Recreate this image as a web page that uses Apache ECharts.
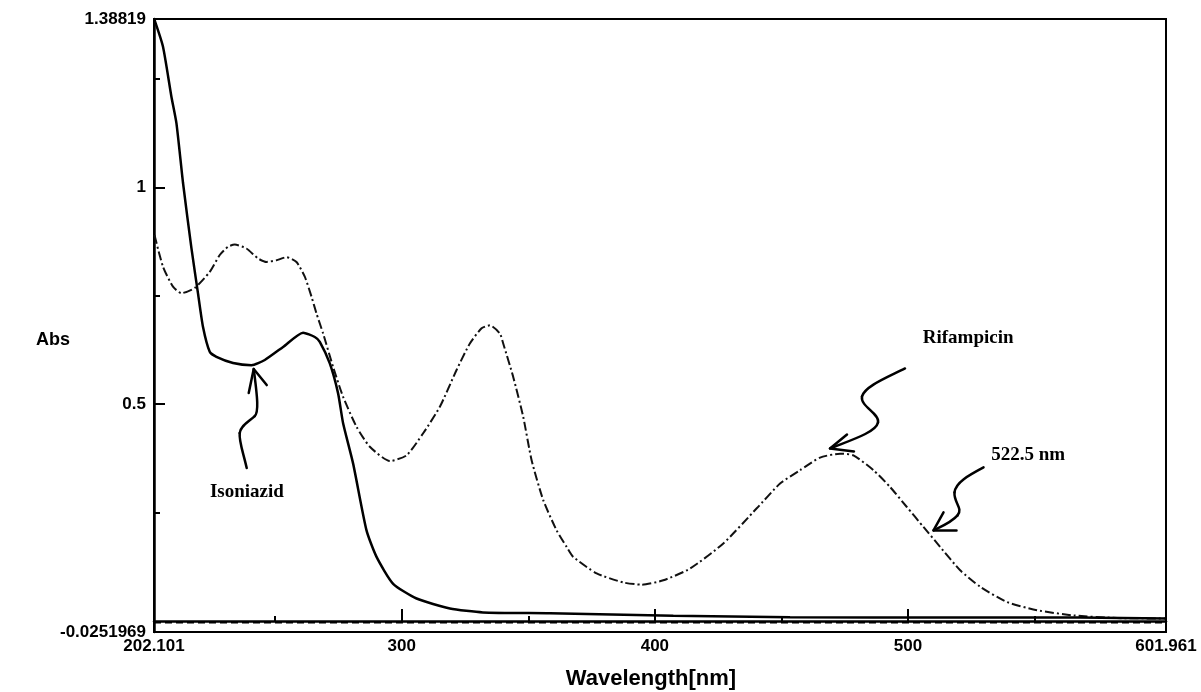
<!DOCTYPE html>
<html>
<head>
<meta charset="utf-8">
<script src="https://cdn.jsdelivr.net/npm/echarts@6/dist/echarts.min.js"></script>
<style>
  html, body { margin: 0; padding: 0; background: #fff; }
  #chart { width: 1201px; height: 692px; }
</style>
</head>
<body>
<div id="chart"></div>
<script>
// UV-Vis absorption spectra of isoniazid and rifampicin

// Tick labels (the first and last are the axis limits)
const xTickLabels = ['202.101', '300', '400', '500', '601.961'];
const xMinorTicks = [250, 350, 450, 550];
const yTickLabels = ['-0.0251969', '0.5', '1', '1.38819'];
const yMinorTicks = [0.25, 0.75, 1.25];

// Isoniazid spectrum (solid)
const isoWavelength = [202.3, 205.66, 208.98, 210.96, 213.57, 216.89, 219.5, 221.47, 224.12, 226.77,
  233.33, 240.61, 245.87, 253.1, 261.01, 265.63, 267.61, 271.56, 274.84, 276.82,
  280.78, 286.07, 290.03, 296.59, 305.84, 319.0, 332.05, 358.54, 407.29, 453.42,
  520.0, 568.07, 601.96];
const isoAbs = [1.386, 1.324, 1.209, 1.148, 1.010, 0.860, 0.755, 0.678, 0.621, 0.609,
  0.595, 0.590, 0.602, 0.632, 0.665, 0.655, 0.644, 0.594, 0.525, 0.456,
  0.363, 0.209, 0.148, 0.086, 0.052, 0.029, 0.020, 0.018, 0.012, 0.009,
  0.008, 0.008, 0.006];

// Rifampicin spectrum (dash-dot)
const rifWavelength = [202.3, 205.66, 209.61, 212.93, 218.19, 224.12, 228.08, 231.36, 234.01, 238.63,
  243.22, 246.54, 250.49, 254.44, 258.4, 261.68, 264.33, 266.31, 268.92, 272.87,
  276.82, 282.12, 287.38, 295.29, 301.89, 308.45, 315.05, 321.65, 326.91, 331.54,
  334.82, 338.77, 340.08, 344.03, 347.98, 351.3, 355.89, 361.19, 365.14, 367.75,
  377.0, 387.52, 394.79, 403.33, 413.89, 427.05, 440.26, 449.47, 457.38, 465.28,
  473.19, 478.45, 486.36, 492.96, 499.56, 506.13, 512.73, 520.63, 528.54, 539.1,
  550.96, 565.43, 582.59, 601.96];
const rifAbs = [0.890, 0.817, 0.771, 0.756, 0.768, 0.805, 0.844, 0.863, 0.868, 0.859,
  0.836, 0.828, 0.832, 0.839, 0.828, 0.794, 0.748, 0.709, 0.663, 0.586,
  0.517, 0.448, 0.402, 0.369, 0.382, 0.433, 0.494, 0.579, 0.640, 0.675,
  0.682, 0.663, 0.640, 0.563, 0.471, 0.371, 0.279, 0.209, 0.171, 0.148,
  0.110, 0.089, 0.084, 0.094, 0.121, 0.179, 0.260, 0.317, 0.348, 0.377,
  0.386, 0.382, 0.348, 0.309, 0.263, 0.217, 0.171, 0.117, 0.079, 0.044,
  0.025, 0.013, 0.007, 0.006];

// Blank reference baseline (dashed)
const baselineAbs = -0.003;

// Annotation texts and their anchors (wavelength, absorbance)
const annotations = [
  { text: 'Isoniazid',  tip: [241.5, 0.581], label: [238.8, 0.297] },
  { text: 'Rifampicin', tip: [469.2, 0.398], label: [523.8, 0.652] },
  { text: '522.5 nm',   tip: [510.1, 0.209], label: [547.5, 0.382] }
];
// Hand-drawn wavy arrows, in pixels relative to the arrow tip:
// cubic segments [x1, y1, cpx1, cpy1, cpx2, cpy2, x2, y2] and an arrow head polyline
const arrowCurves = [
  [[-7, 99, -10, 85, -15, 72, -14, 64], [-14, 64, -13, 56, -4, 52, 1, 47], [1, 47, 5, 43, 4, 30, 0, 0]],
  [[75, -80, 55, -70, 35, -62, 32, -52], [32, -52, 30, -42, 50, -35, 48, -26], [48, -26, 46, -16, 20, -8, 0, 0]],
  [[50, -63, 35, -55, 22, -48, 21, -38], [21, -38, 20, -28, 30, -22, 24, -15], [24, -15, 18, -8, 8, -4, 0, 0]]
];
const arrowHeads = [
  [[-5, 24], [0, 0], [13, 16]],
  [[17, -14], [0, 0], [24, 3]],
  [[10, -18], [0, 0], [23, 0]]
];

const xMin = Number(xTickLabels[0]);
const xMax = Number(xTickLabels[xTickLabels.length - 1]);
const yMin = Number(yTickLabels[0]);
const yMax = Number(yTickLabels[yTickLabels.length - 1]);
const xLabelValues = xTickLabels.map(Number);
const yLabelValues = yTickLabels.map(Number);
const xMajorTicks = xLabelValues.slice(1, -1);
const yMajorTicks = yLabelValues.slice(1, -1);

const sansFont = '"Liberation Sans", Arial, sans-serif';
const serifFont = '"Liberation Serif", "Times New Roman", serif';

function labelFor(list, v) {
  for (const s of list) { if (Math.abs(Number(s) - v) < 1e-6) return s; }
  return String(v);
}
function zip(a, b) { return a.map((v, i) => [v, b[i]]); }

const labelStyle = { color: '#000', fontSize: 17, fontWeight: 'bold', fontFamily: sansFont };

const chart = echarts.init(document.getElementById('chart'), null, { renderer: 'canvas' });

chart.setOption({
  animation: false,
  backgroundColor: '#fff',
  grid: { left: 154, right: 35, top: 19, bottom: 60, show: true, borderColor: '#000', borderWidth: 2,
    outerBoundsMode: 'none' },
  xAxis: [
    {
      type: 'value', min: xMin, max: xMax, position: 'bottom',
      axisLine: { lineStyle: { color: '#000', width: 2.5 } },
      axisTick: { inside: true, length: 12, customValues: xMajorTicks, lineStyle: { color: '#000', width: 2 } },
      axisLabel: Object.assign({ customValues: xLabelValues, margin: 6,
        formatter: v => labelFor(xTickLabels, v) }, labelStyle),
      splitLine: { show: false },
      name: 'Wavelength[nm]', nameLocation: 'middle', nameGap: 34, nameMoveOverlap: false,
      nameTextStyle: { color: '#000', fontSize: 22, fontWeight: 'bold', fontFamily: sansFont,
        padding: [2, 18, 0, 0] }
    },
    {
      type: 'value', min: xMin, max: xMax, position: 'bottom',
      axisLine: { show: false },
      axisTick: { inside: true, length: 5, customValues: xMinorTicks, lineStyle: { color: '#000', width: 2 } },
      axisLabel: { show: false },
      splitLine: { show: false }
    }
  ],
  yAxis: [
    {
      type: 'value', min: yMin, max: yMax, position: 'left',
      axisLine: { show: true, lineStyle: { color: '#000', width: 2.5 } },
      axisTick: { show: true, inside: true, length: 11, customValues: yMajorTicks, lineStyle: { color: '#000', width: 2 } },
      axisLabel: Object.assign({ customValues: yLabelValues, margin: 8,
        formatter: v => labelFor(yTickLabels, v) }, labelStyle),
      splitLine: { show: false },
      name: 'Abs', nameLocation: 'middle', nameGap: 84, nameRotate: 0, nameMoveOverlap: false,
      nameTextStyle: { color: '#000', fontSize: 18, fontWeight: 'bold', fontFamily: sansFont,
        verticalAlign: 'top', padding: [6, 0, 0, 0] }
    },
    {
      type: 'value', min: yMin, max: yMax, position: 'left',
      axisLine: { show: false },
      axisTick: { show: true, inside: true, length: 6, customValues: yMinorTicks, lineStyle: { color: '#000', width: 2 } },
      axisLabel: { show: false },
      splitLine: { show: false }
    }
  ],
  series: [
    {
      type: 'line', name: 'Baseline', data: [[xMin, baselineAbs], [xMax, baselineAbs]],
      showSymbol: false, silent: true,
      lineStyle: { color: '#000', width: 2.2, type: [7, 4] }, z: 2
    },
    {
      type: 'line', name: 'Isoniazid', data: zip(isoWavelength, isoAbs),
      showSymbol: false, smooth: 0.2,
      lineStyle: { color: '#000', width: 2.5 }, z: 4
    },
    {
      type: 'line', name: 'Rifampicin', data: zip(rifWavelength, rifAbs),
      showSymbol: false, smooth: 0.2,
      lineStyle: { color: '#111', width: 2, type: [9, 3, 2, 3] }, z: 3
    }
  ]
});

// Annotations: wavy arrows and serif labels placed from data coordinates
const strokeStyle = { fill: null, stroke: '#000', lineWidth: 2.5, lineCap: 'round', lineJoin: 'round' };
const graphics = [];
annotations.forEach((a, i) => {
  const tip = chart.convertToPixel({ gridIndex: 0 }, a.tip);
  const lab = chart.convertToPixel({ gridIndex: 0 }, a.label);
  arrowCurves[i].forEach(c => {
    graphics.push({
      type: 'bezierCurve', x: tip[0], y: tip[1],
      shape: { x1: c[0], y1: c[1], cpx1: c[2], cpy1: c[3], cpx2: c[4], cpy2: c[5], x2: c[6], y2: c[7] },
      style: strokeStyle, z: 10
    });
  });
  graphics.push({
    type: 'polyline', x: tip[0], y: tip[1],
    shape: { points: arrowHeads[i] },
    style: strokeStyle, z: 10
  });
  graphics.push({
    type: 'text', x: lab[0], y: lab[1],
    style: { text: a.text, fill: '#000', font: 'bold 19px ' + serifFont, align: 'center', verticalAlign: 'middle' },
    z: 10
  });
});
chart.setOption({ graphic: graphics });
</script>
</body>
</html>
